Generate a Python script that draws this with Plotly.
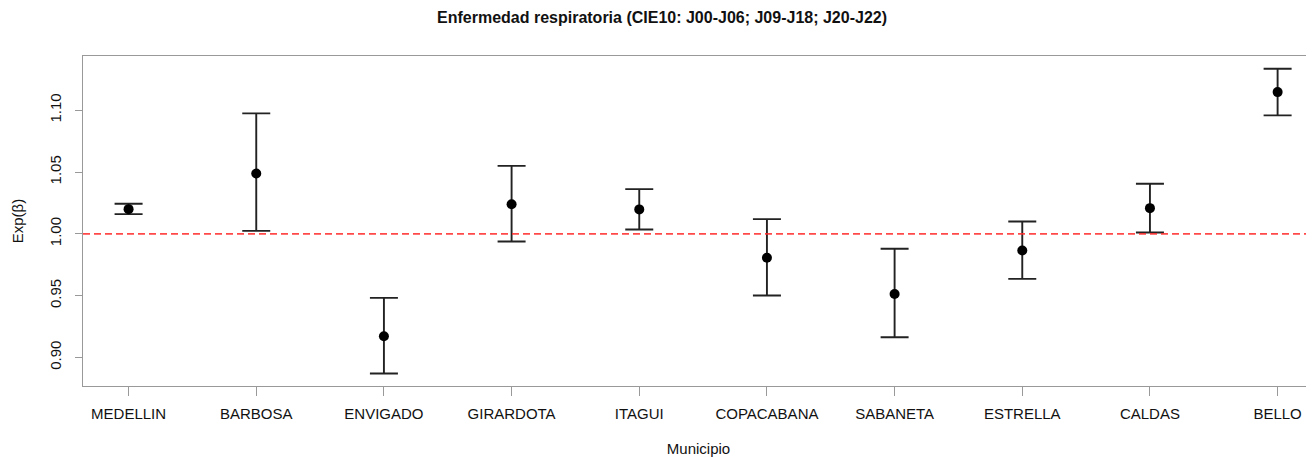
import plotly.graph_objects as go

municipios = ["MEDELLIN", "BARBOSA", "ENVIGADO", "GIRARDOTA", "ITAGUI",
              "COPACABANA", "SABANETA", "ESTRELLA", "CALDAS", "BELLO"]
estimate = [1.0200, 1.0489, 0.9172, 1.0240, 1.0198, 0.9806, 0.9514, 0.9866, 1.0208, 1.1147]
upper = [1.0243, 1.0975, 0.9482, 1.0550, 1.0362, 1.0119, 0.9879, 1.0100, 1.0405, 1.1336]
lower = [1.0160, 1.0024, 0.8870, 0.9938, 1.0035, 0.9501, 0.9164, 0.9636, 1.0011, 1.0959]
y_ticks = [0.90, 0.95, 1.00, 1.05, 1.10]
reference_value = 1.0

x_idx = list(range(len(municipios)))
err_plus = [u - e for u, e in zip(upper, estimate)]
err_minus = [e - l for e, l in zip(estimate, lower)]

FONT = "Liberation Sans, Arial, sans-serif"
W, H = 1306, 450  # page body adds an 8px offset

fig = go.Figure()
fig.add_trace(go.Scatter(
    x=x_idx, y=estimate, mode="markers",
    marker=dict(color="black", size=10, symbol="circle"),
    error_y=dict(type="data", symmetric=False, array=err_plus, arrayminus=err_minus,
                 color="#222222", thickness=1.9, width=14),
    showlegend=False, hoverinfo="skip",
))

fig.add_shape(type="line", xref="paper", x0=0, x1=1, yref="y",
              y0=reference_value, y1=reference_value,
              line=dict(color="rgba(255,40,40,0.85)", width=1.6, dash="7px,4px"))

fig.update_layout(
    width=W, height=H,
    margin=dict(l=75, r=0, t=48, b=72, pad=0),
    paper_bgcolor="white", plot_bgcolor="white",
    font=dict(family=FONT, color="#111111"),
    title=dict(text="<b>Enfermedad respiratoria (CIE10: J00-J06; J09-J18; J20-J22)</b>",
               x=654 / W, xanchor="center", y=1 - 9 / H, yanchor="middle",
               font=dict(size=16, family=FONT, color="#111111")),
    xaxis=dict(
        range=[-0.357, 9.285], tickmode="array", tickvals=x_idx, ticktext=municipios,
        showgrid=False, zeroline=False, showline=True, linecolor="#999999", linewidth=1.2,
        mirror=True, ticks="outside", ticklen=9, tickcolor="#999999", tickwidth=1.2,
        ticklabelstandoff=5,
        tickfont=dict(size=15, family=FONT, color="#111111"),
        title=dict(text="Municipio", font=dict(size=15, family=FONT, color="#111111"), standoff=22),
    ),
    yaxis=dict(
        range=[0.8769, 1.1439], tickmode="array", tickvals=y_ticks,
        ticktext=[f"{v:.2f}" for v in y_ticks],
        showgrid=False, zeroline=False, showline=True, linecolor="#999999", linewidth=1.2,
        ticks="outside", ticklen=7, tickcolor="#999999", tickwidth=1.2, tickangle=-90,
        ticklabelstandoff=8,
        tickfont=dict(size=15, family=FONT, color="#111111"),
        title=dict(text="Exp(β)", font=dict(size=15, family=FONT, color="#111111"), standoff=19),
    ),
)

fig.write_html("out.html")
